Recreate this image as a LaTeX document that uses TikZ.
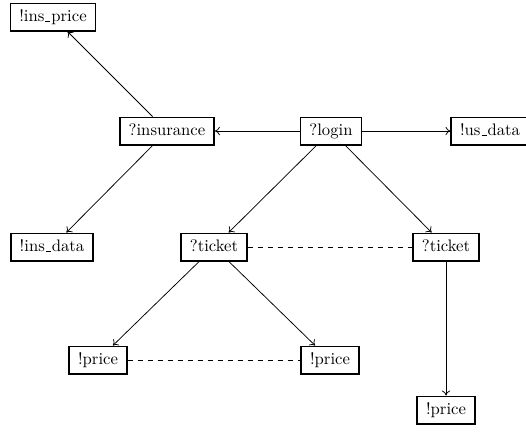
\documentclass[tikz,border=0pt]{standalone}
\usetikzlibrary{arrows.meta}
\newcommand\undsc{\leavevmode\kern.06em\vbox{\hrule width.3em}\kern.06em}
\begin{document}
\begin{tikzpicture}[x=0.6pt,y=-0.6pt,
  box/.style={draw,line width=0.9pt,inner xsep=5.3pt,inner ysep=0pt,minimum height=16.5pt,text height=7pt,text depth=2pt,fill=white},
  conn/.style={line width=0.45pt,-{To[length=3pt,width=5pt]}},
  dconn/.style={line width=0.45pt,dashed}]
\useasboundingbox (0,0) rectangle (526,431);
\node[box] (insprice) at (53,17) {!ins\undsc price};
\node[box] (ins) at (167,131) {?insurance};
\node[box] (login) at (331,131) {?login};
\node[box] (usdata) at (490,131) {!us\undsc data};
\node[box] (insdata) at (52,247) {!ins\undsc data};
\node[box] (t1) at (214,247) {?ticket};
\node[box] (t2) at (446,247) {?ticket};
\node[box] (p1) at (98,360) {!price};
\node[box] (p2) at (330,360) {!price};
\node[box] (p3) at (446,410) {!price};
\draw[conn] (login) -- (ins);
\draw[conn] (login) -- (usdata);
\draw[conn] (ins) -- (insprice);
\draw[conn] (ins) -- (insdata);
\draw[conn] (login) -- (t1);
\draw[conn] (login) -- (t2);
\draw[conn] (t1) -- (p1);
\draw[conn] (t1) -- (p2);
\draw[conn] (t2) -- (p3);
\draw[dconn] (t1) -- (t2);
\draw[dconn] (p1) -- (p2);
\end{tikzpicture}
\end{document}
